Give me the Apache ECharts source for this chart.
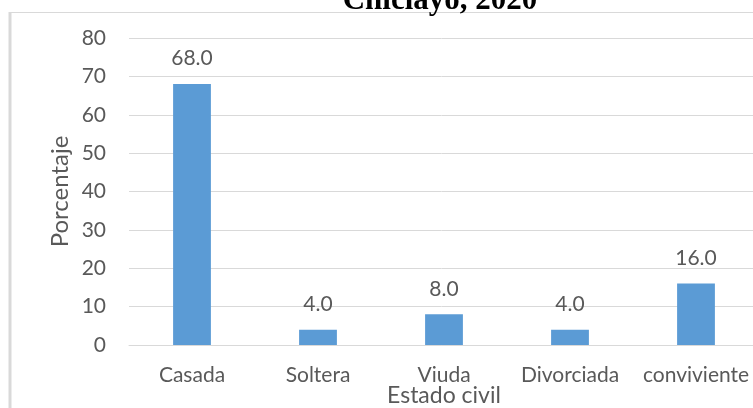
<!DOCTYPE html>
<html>
<head>
<meta charset="utf-8">
<script src="https://cdn.jsdelivr.net/npm/echarts@6/dist/echarts.min.js"></script>
<style>
  html, body { margin: 0; padding: 0; background: #fff; }
  #chart { width: 753px; height: 408px; }
</style>
</head>
<body>
<div id="chart"></div>
<script>
var categories = ['Casada', 'Soltera', 'Viuda', 'Divorciada', 'conviviente'];
var percentages = [68.0, 4.0, 8.0, 4.0, 16.0];
var yTicks = {min: 0, max: 80, interval: 10};

var textGray = '#595959';
var lineGray = '#d9d9d9';
var font = 'Lato';

var option = {
    animation: false,
    title: {
        text: 'Chiclayo, 2020',
        left: 435,
        top: -20,
        textAlign: 'center',
        textStyle: {
            fontFamily: 'Liberation Serif',
            fontWeight: 'bold',
            fontSize: 31,
            color: '#000'
        }
    },
    graphic: [
        {type: 'line', shape: {x1: 10, y1: 12.5, x2: 800, y2: 12.5}, style: {stroke: lineGray, lineWidth: 1}},
        {type: 'line', shape: {x1: 10, y1: 12, x2: 10, y2: 420}, style: {stroke: lineGray, lineWidth: 3}}
    ],
    grid: {left: 129, top: 38, width: 630, height: 307, outerBoundsMode: 'none', containLabel: false},
    xAxis: {
        type: 'category',
        data: categories,
        name: 'Estado civil',
        nameLocation: 'middle',
        nameGap: 39,
        nameMoveOverlap: false,
        nameTextStyle: {fontFamily: font, fontSize: 23, color: textGray},
        axisLine: {lineStyle: {color: lineGray, width: 1}},
        axisTick: {show: false},
        axisLabel: {fontFamily: font, fontSize: 21, color: textGray, margin: 20, interval: 0, hideOverlap: false}
    },
    yAxis: {
        type: 'value',
        min: yTicks.min,
        max: yTicks.max,
        interval: yTicks.interval,
        name: 'Porcentaje',
        nameLocation: 'middle',
        nameGap: 57,
        nameMoveOverlap: false,
        nameTextStyle: {fontFamily: font, fontSize: 24, color: textGray},
        axisLine: {show: false},
        axisTick: {show: false},
        axisLabel: {fontFamily: font, fontSize: 21, color: textGray, margin: 23},
        splitLine: {lineStyle: {color: lineGray, width: 1}}
    },
    series: [{
        type: 'bar',
        data: percentages,
        barWidth: '30%',
        itemStyle: {color: '#5b9bd5'},
        label: {
            show: true,
            position: 'top',
            distance: 15,
            fontFamily: font,
            fontSize: 21,
            color: textGray,
            formatter: function (p) { return p.value.toFixed(1); }
        }
    }]
};

var myChart = echarts.init(document.getElementById('chart'));
myChart.setOption(option);
</script>
</body>
</html>
